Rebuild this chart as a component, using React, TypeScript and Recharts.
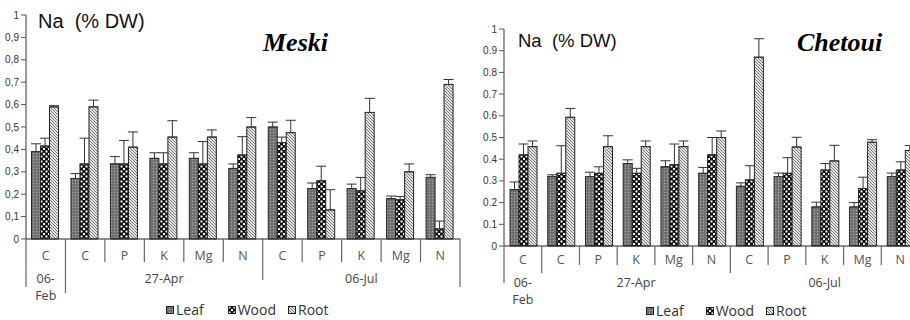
import React from "react";
import { BarChart, Bar, XAxis, YAxis, ErrorBar } from "recharts";

const categories = ["C", "C", "P", "K", "Mg", "N", "C", "P", "K", "Mg", "N"];
const yTicks = [0, 0.1, 0.2, 0.3, 0.4, 0.5, 0.6, 0.7, 0.8, 0.9, 1];
const seriesNames = ["Leaf", "Wood", "Root"];

const meskiLeaf = [0.39, 0.27, 0.335, 0.36, 0.36, 0.315, 0.5, 0.225, 0.225, 0.18, 0.275];
const meskiLeafErr = [0.035, 0.022, 0.033, 0.025, 0.025, 0.02, 0.022, 0.025, 0.02, 0.012, 0.012];
const meskiWood = [0.415, 0.335, 0.335, 0.335, 0.335, 0.375, 0.43, 0.26, 0.215, 0.175, 0.045];
const meskiWoodErr = [0.035, 0.115, 0.105, 0.05, 0.1, 0.082, 0.025, 0.065, 0.06, 0.015, 0.035];
const meskiRoot = [0.59, 0.59, 0.41, 0.455, 0.455, 0.5, 0.475, 0.13, 0.565, 0.3, 0.69];
const meskiRootErr = [0.005, 0.03, 0.068, 0.073, 0.032, 0.042, 0.055, 0.09, 0.063, 0.035, 0.022];

const chetouiLeaf = [0.26, 0.32, 0.32, 0.38, 0.365, 0.335, 0.275, 0.32, 0.18, 0.18, 0.32];
const chetouiLeafErr = [0.035, 0.008, 0.02, 0.017, 0.028, 0.027, 0.016, 0.016, 0.022, 0.02, 0.016];
const chetouiWood = [0.42, 0.335, 0.335, 0.335, 0.375, 0.42, 0.305, 0.335, 0.35, 0.265, 0.35];
const chetouiWoodErr = [0.05, 0.127, 0.03, 0.023, 0.095, 0.08, 0.065, 0.072, 0.03, 0.052, 0.038];
const chetouiRoot = [0.458, 0.593, 0.458, 0.458, 0.458, 0.5, 0.87, 0.456, 0.392, 0.478, 0.44];
const chetouiRootErr = [0.026, 0.041, 0.05, 0.026, 0.026, 0.03, 0.085, 0.045, 0.072, 0.012, 0.023];

const buildRows = (l, le, w, we, r, re) =>
  categories.map((c, i) => ({
    cat: c,
    leaf: l[i],
    leafErr: [0, le[i]],
    wood: w[i],
    woodErr: [0, we[i]],
    root: r[i],
    rootErr: [0, re[i]],
  }));

const meskiData = buildRows(meskiLeaf, meskiLeafErr, meskiWood, meskiWoodErr, meskiRoot, meskiRootErr);
const chetouiData = buildRows(chetouiLeaf, chetouiLeafErr, chetouiWood, chetouiWoodErr, chetouiRoot, chetouiRootErr);

const SANS = "'Liberation Sans', Arial, sans-serif";
const LABEL_FONT = "'Open Sans', 'Liberation Sans', sans-serif";

const Patterns = ({ p }) => (
  <defs>
    <pattern id={p + "leaf"} width="3" height="3" patternUnits="userSpaceOnUse">
      <rect width="3" height="3" fill="#767676" />
      <rect x="0" y="0" width="1" height="1" fill="#a8a8a8" />
      <rect x="1.5" y="1.5" width="1" height="1" fill="#5a5a5a" />
    </pattern>
    <pattern id={p + "wood"} width="5" height="5" patternUnits="userSpaceOnUse">
      <rect width="5" height="5" fill="#111" />
      <rect x="0.5" y="0.5" width="2" height="2" fill="#fff" />
      <rect x="3" y="3" width="2" height="2" fill="#f4f4f4" />
    </pattern>
    <pattern id={p + "root"} width="3" height="3" patternUnits="userSpaceOnUse">
      <rect width="3" height="3" fill="#e6e6e6" />
      <path d="M-1,-1 L4,4 M-1,2 L1,4 M2,-1 L4,1" stroke="#6a6a6a" strokeWidth="0.9" />
    </pattern>
  </defs>
);

const makeTick = (cfg) => (props) => {
  const { x, payload, index } = props;
  const y = cfg.axisY;
  const i = payload && payload.index != null ? payload.index : index;
  const half = cfg.half;
  const elems = [];
  const leftLen = cfg.longLens[i] != null ? cfg.longLens[i] : cfg.shortLen;
  elems.push(
    <line key="l" x1={x - half} x2={x - half} y1={y} y2={y + leftLen} stroke="#666" strokeWidth={1.2} />
  );
  if (i === categories.length - 1) {
    elems.push(
      <line key="r" x1={x + half} x2={x + half} y1={y} y2={y + cfg.endLen} stroke="#666" strokeWidth={1.2} />
    );
  }
  elems.push(
    <text key="c" x={x} y={y + cfg.catDy} textAnchor="middle" fontFamily={LABEL_FONT} fontSize={12.5} fill="#555">
      {payload.value}
    </text>
  );
  const g = cfg.groups[i];
  if (g) {
    g.forEach((t, k) => {
      elems.push(
        <text key={"g" + k} x={x} y={y + cfg.groupDy + k * cfg.lineH} textAnchor="middle" fontFamily={LABEL_FONT} fontSize={12.5} fill="#444">
          {t}
        </text>
      );
    });
  }
  return <g>{elems}</g>;
};

const LegendBox = ({ p, gaps, left, top }) => (
  <div style={{ position: "absolute", left, top, display: "flex", alignItems: "center", fontFamily: LABEL_FONT, fontSize: 14, color: "#333", lineHeight: "18px" }}>
    {seriesNames.map((n, k) => (
      <div key={n} style={{ display: "flex", alignItems: "center", marginRight: gaps[k] }}>
        <svg width="8" height="8" style={{ marginRight: 2 }}>
          <rect x="0.5" y="0.5" width="7" height="7" fill={`url(#${p}${n.toLowerCase()})`} stroke="#222" strokeWidth="1" />
        </svg>
        <span>{n}</span>
      </div>
    ))}
  </div>
);

const Panel = ({ data, p, width, height, margin, yAxisWidth, fmt, title, titleX, titleY, titleSize, name, nameX, tickCfg, gap }) => (
  <BarChart
    width={width}
    height={height}
    data={data}
    margin={margin}
    barCategoryGap={gap}
    barGap={0}
  >
    <Patterns p={p} />
    <XAxis
      dataKey="cat"
      height={30}
      axisLine={{ stroke: "#222", strokeWidth: 1.2 }}
      tickLine={false}
      tickSize={0}
      tickMargin={0}
      interval={0}
      tick={makeTick(tickCfg)}
    />
    <YAxis
      width={yAxisWidth}
      domain={[0, 1]}
      ticks={yTicks}
      interval={0}
      axisLine={{ stroke: "#555", strokeWidth: 1.2 }}
      tickLine={{ stroke: "#555" }}
      tickSize={5}
      tickMargin={2}
      tickFormatter={fmt}
      tick={{ fontFamily: SANS, fontSize: 10, fill: "#333" }}
    />
    <Bar dataKey="leaf" fill={`url(#${p}leaf)`} stroke="#222" strokeWidth={1} isAnimationActive={false}>
      <ErrorBar dataKey="leafErr" width={5} stroke="#333" strokeWidth={1} direction="y" />
    </Bar>
    <Bar dataKey="wood" fill={`url(#${p}wood)`} stroke="#222" strokeWidth={1} isAnimationActive={false}>
      <ErrorBar dataKey="woodErr" width={5} stroke="#333" strokeWidth={1} direction="y" />
    </Bar>
    <Bar dataKey="root" fill={`url(#${p}root)`} stroke="#222" strokeWidth={1} isAnimationActive={false}>
      <ErrorBar dataKey="rootErr" width={5} stroke="#333" strokeWidth={1} direction="y" />
    </Bar>
    <text x={titleX} y={titleY} fontFamily={SANS} fontSize={titleSize} fill="#111" style={{ whiteSpace: "pre" }}>
      {title}
    </text>
    <text x={nameX} y={51} fontFamily="'Liberation Serif', 'Times New Roman', serif" fontStyle="italic" fontWeight="bold" fontSize={26} fill="#000">
      {name}
    </text>
  </BarChart>
);

export default function App() {
  const leftPlotW = 434;
  const rightPlotW = 415;
  return (
    <div style={{ position: "absolute", left: 0, top: 0, width: 910, height: 320, overflow: "hidden", background: "#fff" }}>
      <div style={{ position: "absolute", left: 0, top: 0 }}>
        <Panel
          data={meskiData}
          p="m"
          width={465}
          height={320}
          margin={{ top: 15, right: 5, bottom: 51, left: 0 }}
          yAxisWidth={26}
          fmt={(v) => (v === 0 ? "0" : v === 1 ? "1" : v.toFixed(1).replace(".", ","))}
          title={"Na  (% DW)"}
          titleX={38}
          titleY={28}
          titleSize={20}
          name="Meski"
          nameX={263}
          gap="14%"
          tickCfg={{
            axisY: 239,
            half: leftPlotW / categories.length / 2,
            shortLen: 23,
            longLens: { 0: 48, 1: 54, 6: 41 },
            endLen: 48,
            catDy: 21,
            groups: { 0: ["06-", "Feb"], 3: ["27-Apr"], 8: ["06-Jul"] },
            groupDy: 44,
            lineH: 17,
          }}
        />
      </div>
      <div style={{ position: "absolute", left: 460, top: 0 }}>
        <Panel
          data={chetouiData}
          p="c"
          width={460}
          height={320}
          margin={{ top: 29, right: 1, bottom: 44, left: 0 }}
          yAxisWidth={44}
          fmt={(v) => (v === 0 ? "0" : v === 1 ? "1" : v.toFixed(1))}
          title={"Na  (% DW)"}
          titleX={58}
          titleY={47}
          titleSize={18.5}
          name="Chetoui"
          nameX={337}
          gap="16%"
          tickCfg={{
            axisY: 246,
            half: rightPlotW / categories.length / 2,
            shortLen: 19,
            longLens: { 0: 37, 1: 27, 6: 27 },
            endLen: 37,
            catDy: 18,
            groups: { 0: ["06-", "Feb"], 3: ["27-Apr"], 8: ["06-Jul"] },
            groupDy: 41,
            lineH: 17,
          }}
        />
      </div>
      <LegendBox p="m" gaps={[24, 12, 0]} left={166} top={301} />
      <LegendBox p="c" gaps={[22, 12, 0]} left={646} top={302} />
    </div>
  );
}
